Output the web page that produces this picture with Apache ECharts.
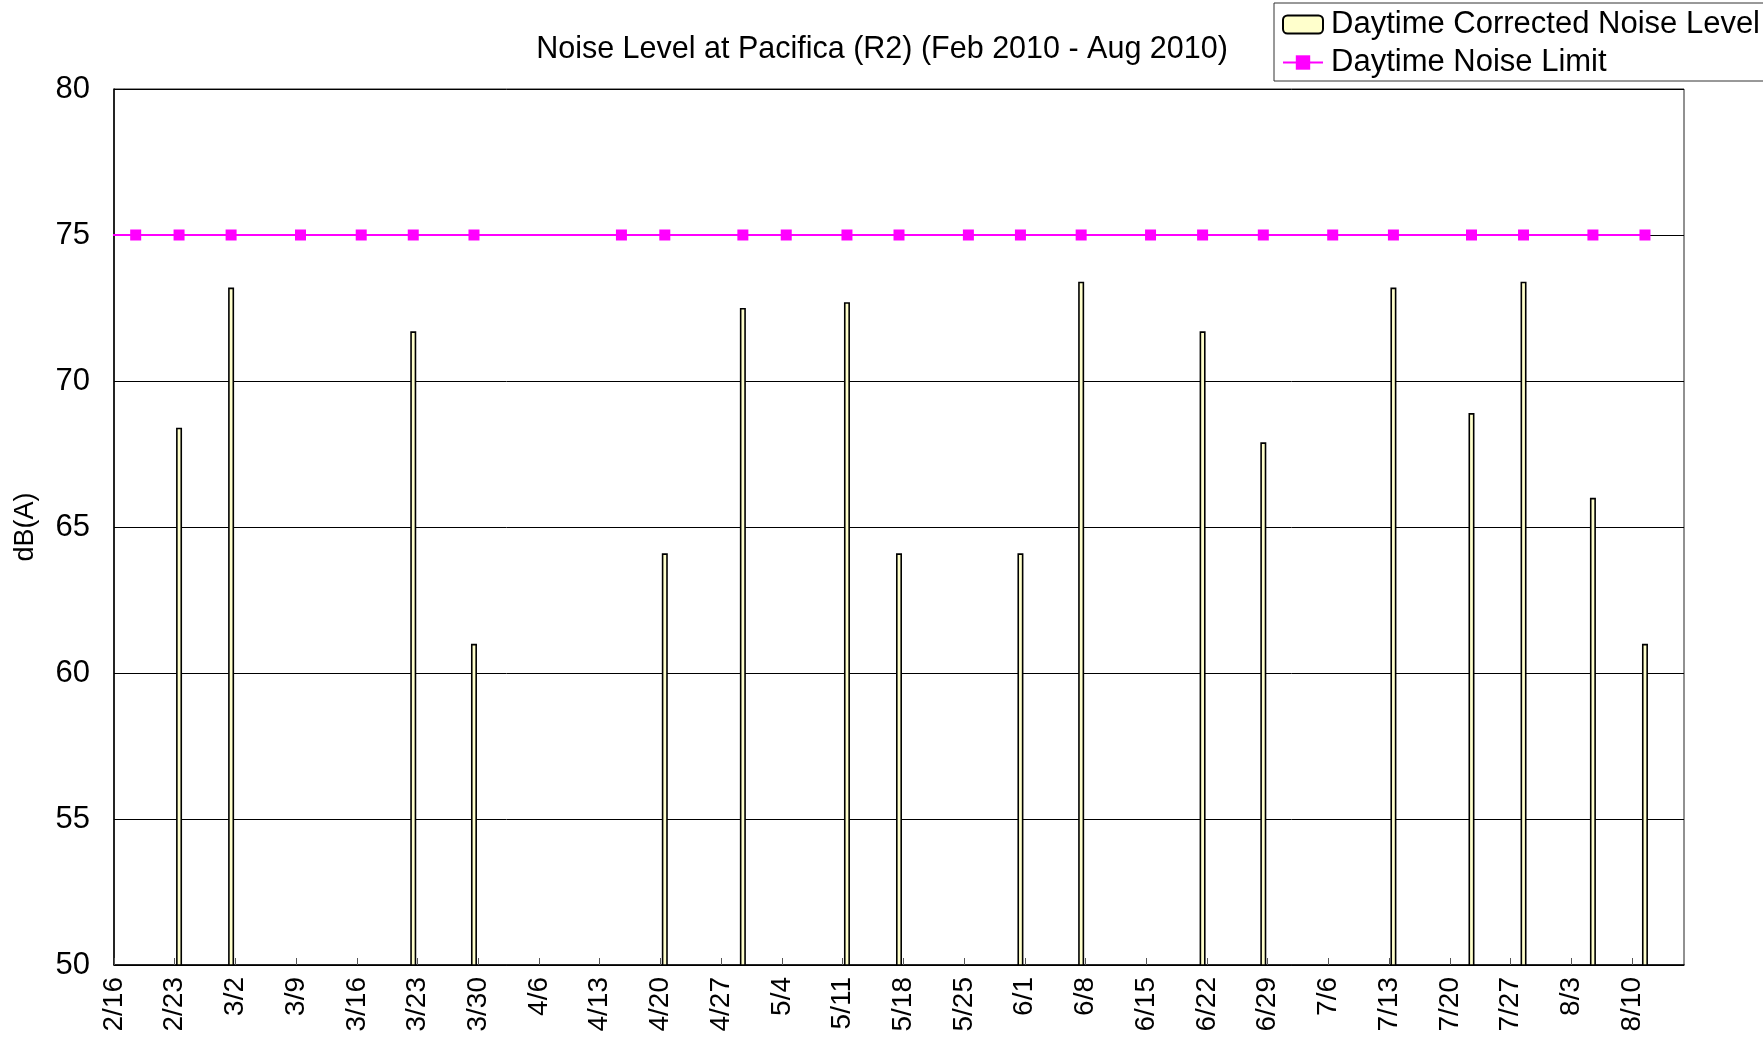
<!DOCTYPE html>
<html>
<head>
<meta charset="utf-8">
<script src="https://cdn.jsdelivr.net/npm/echarts@6/dist/echarts.min.js"></script>
<style>
html,body{margin:0;padding:0;background:#fff;}
#chart{width:1763px;height:1038px;}
</style>
</head>
<body>
<div id="chart"></div>
<script>
// ---- data ----
const barDates = ['2/23','3/1','3/22','3/29','4/20','4/29','5/11','5/17','5/31','6/7','6/21','6/28','7/13','7/22','7/28','8/5','8/11'];
const barValues = [68.4,73.2,71.7,61.0,64.1,72.5,72.7,64.1,64.1,73.4,71.7,67.9,73.2,68.9,73.4,66.0,61.0];
const limitDates = ['2/15','2/18','2/23','3/1','3/9','3/16','3/22','3/29','4/15','4/20','4/29','5/4','5/11','5/17','5/25','5/31','6/7','6/15','6/21','6/28','7/6','7/13','7/22','7/28','8/5','8/11'];
const limitValues = [75,75,75,75,75,75,75,75,75,75,75,75,75,75,75,75,75,75,75,75,75,75,75,75,75,75];
const xTickLabels = ['2/16','2/23','3/2','3/9','3/16','3/23','3/30','4/6','4/13','4/20','4/27','5/4','5/11','5/18','5/25','6/1','6/8','6/15','6/22','6/29','7/6','7/13','7/20','7/27','8/3','8/10'];
const yTicks = [50,55,60,65,70,75,80];
const axisStart = '2/16';
const axisEnd = '8/16';

function dayOffset(md){
  const p = md.split('/').map(Number);
  const s = axisStart.split('/').map(Number);
  return (Date.UTC(2010,p[0]-1,p[1]) - Date.UTC(2010,s[0]-1,s[1]))/86400000;
}
// Excel date axis: each day is a slot, marks sit at the slot centre
const barData = barDates.map((d,i)=>[dayOffset(d)+0.5, barValues[i]]);
const limitData = limitDates.map((d,i)=>{
  const x = dayOffset(d)+0.5;
  if (x < 0) return {value:[x, limitValues[i]], symbol:'none'};
  return [x, limitValues[i]];
});

const FONT = '"Liberation Sans", Arial, sans-serif';
const chart = echarts.init(document.getElementById('chart'));
chart.setOption({
  animation:false,
  backgroundColor:'#fff',
  title:{
    text:'Noise Level at Pacifica (R2) (Feb 2010 - Aug 2010)',
    left:877, top:29, textAlign:'center',
    textStyle:{fontFamily:FONT, fontSize:30.5, fontWeight:'normal', color:'#000'}
  },
  legend:{
    orient:'vertical', left:1274, top:3,
    padding:[6,8,3,8], itemGap:7, itemWidth:40, itemHeight:18,
    borderColor:'#333', borderWidth:1, backgroundColor:'#fff',
    textStyle:{fontFamily:FONT, fontSize:31, color:'#000', padding:[0,0,0,3], lineHeight:30},
    data:['Daytime Corrected Noise Level','Daytime Noise Limit']
  },
  grid:{left:114, right:79, top:89, bottom:73, show:true, borderColor:'#222', borderWidth:1,
        backgroundColor:'transparent', containLabel:false, outerBoundsMode:'none'},
  xAxis:{
    type:'value', min:0, max:dayOffset(axisEnd), interval:7,
    axisLine:{show:true, lineStyle:{color:'#000', width:1.5}},
    axisTick:{show:true, inside:true, length:7, lineStyle:{color:'#555', width:1}},
    splitLine:{show:false},
    axisLabel:{
      rotate:90, margin:12, fontFamily:FONT, fontSize:28, color:'#000',
      showMaxLabel:false,
      formatter:(v)=>{ const i=Math.round(v/7); return xTickLabels[i]!==undefined ? xTickLabels[i] : ''; }
    }
  },
  yAxis:{
    type:'value', min:yTicks[0], max:yTicks[yTicks.length-1], interval:5,
    name:'dB(A)', nameLocation:'middle', nameGap:75, nameRotate:90,
    nameTextStyle:{fontFamily:FONT, fontSize:27, color:'#000'},
    axisLine:{show:true, lineStyle:{color:'#000', width:1.5}},
    axisTick:{show:false},
    splitLine:{show:true, lineStyle:{color:'#000', width:1}},
    axisLabel:{margin:24, fontFamily:FONT, fontSize:31, color:'#000'}
  },
  series:[
    {
      name:'Daytime Corrected Noise Level', type:'bar',
      data:barData, barWidth:6,
      itemStyle:{color:'#FFFFCC', borderColor:'#000', borderWidth:1.6},
      z:2
    },
    {
      name:'Daytime Noise Limit', type:'line',
      data:limitData, clip:false,
      symbol:'rect', symbolSize:11,
      lineStyle:{color:'#FF00FF', width:2},
      itemStyle:{color:'#FF00FF'},
      z:3
    }
  ]
});
</script>
</body>
</html>
